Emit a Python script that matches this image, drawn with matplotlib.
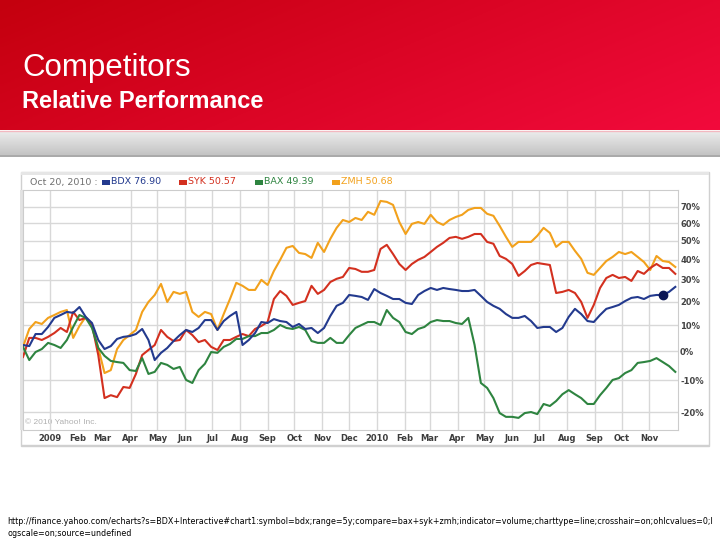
import numpy as np
import pandas as pd
import matplotlib
matplotlib.use('Agg')
import matplotlib.pyplot as plt
from matplotlib.patches import Rectangle
from matplotlib.ticker import FixedLocator, NullLocator, FixedFormatter

# relative performance in %, weekly
dates = pd.date_range('2008-12-02', periods=105, freq='7D')

bdx = [2.4, 2.0, 6.6, 6.6, 9.4, 13.1, 14.3, 15.6, 15.2, 17.7,
       13.5, 11.0, 4.3, 0.9, 2.0, 4.7, 5.5, 5.8, 6.6, 8.6,
       4.3, -3.1, -0.5, 1.3, 3.9, 6.2, 8.2, 7.4, 9.0, 12.2,
       12.2, 8.2, 11.8, 13.9, 15.6, 2.4, 4.3, 7.0, 11.4, 11.0,
       12.6, 11.8, 11.4, 9.4, 10.6, 8.6, 9.0, 7.0, 9.0, 13.9,
       18.2, 19.5, 23.0, 22.6, 22.1, 20.8, 25.7, 23.9, 22.6, 21.2,
       21.2, 19.5, 19.0, 23.0, 24.8, 26.2, 25.3, 26.2, 25.7, 25.3,
       24.8, 24.8, 25.3, 22.6, 19.9, 18.2, 16.9, 14.7, 13.1, 13.1,
       13.9, 11.8, 9.0, 9.4, 9.4, 7.4, 9.0, 13.5, 16.9, 14.7,
       11.8, 11.4, 14.3, 16.9, 17.7, 18.6, 20.3, 21.7, 22.1, 21.2,
       22.6, 23.0, 23.0, 24.4, 26.7]

syk = [-2.0, 5.1, 5.1, 4.3, 5.5, 7.0, 9.0, 7.4, 15.6, 12.2,
       13.1, 10.2, -1.3, -15.7, -14.8, -15.4, -12.2, -12.5, -7.9, -1.3,
       0.55, 2.4, 8.2, 5.5, 3.9, 4.3, 8.2, 6.2, 3.5, 4.3,
       1.7, 0.55, 4.3, 4.3, 5.5, 6.6, 5.8, 8.6, 9.8, 11.4,
       21.2, 24.8, 22.6, 18.6, 19.5, 20.3, 27.2, 23.5, 25.3, 29.0,
       30.5, 31.4, 35.8, 35.3, 33.9, 33.9, 34.8, 45.6, 47.8, 42.9,
       37.8, 34.8, 37.8, 39.9, 41.4, 44.0, 46.7, 48.9, 51.6, 52.2,
       51.1, 52.2, 53.8, 53.8, 49.4, 48.4, 41.9, 40.4, 37.8, 31.9,
       34.3, 37.3, 38.3, 37.8, 37.3, 23.9, 24.4, 25.3, 23.9, 19.9,
       13.1, 18.6, 26.2, 30.9, 32.4, 30.9, 31.4, 29.5, 34.3, 32.9,
       35.8, 37.8, 35.8, 35.8, 32.9]

bax = [1.7, -3.1, -0.2, 0.9, 3.2, 2.4, 1.3, 4.3, 9.4, 14.3,
       13.1, 9.0, 1.3, -1.6, -3.4, -3.8, -4.1, -6.6, -6.9, -2.4,
       -7.9, -7.2, -4.1, -4.8, -6.2, -5.5, -9.9, -10.9, -6.6, -4.4,
       -0.2, -0.5, 1.7, 2.8, 4.7, 4.7, 5.8, 5.8, 7.0, 7.0,
       8.2, 10.2, 9.0, 8.6, 9.4, 8.2, 3.9, 3.2, 3.2, 5.1,
       3.2, 3.2, 6.2, 9.0, 10.2, 11.4, 11.4, 10.2, 16.4, 13.1,
       11.4, 7.4, 6.6, 8.6, 9.4, 11.4, 12.2, 11.8, 11.8, 11.0,
       10.6, 13.1, 2.4, -10.9, -12.5, -15.7, -20.2, -21.3, -21.3, -21.6,
       -20.2, -19.9, -20.5, -17.5, -18.1, -16.6, -14.5, -13.2, -14.5, -15.7,
       -17.5, -17.5, -14.8, -12.5, -9.9, -9.3, -7.6, -6.6, -4.1, -3.8,
       -3.4, -2.4, -3.8, -5.2, -7.2]

zmh = [1.7, 8.6, 11.4, 10.6, 13.1, 14.3, 15.6, 16.4, 5.1, 9.8,
       13.5, 10.2, 1.3, -7.6, -6.6, 0.9, 4.3, 6.2, 8.2, 15.6,
       19.9, 23.0, 28.1, 19.9, 24.4, 23.5, 24.4, 15.6, 13.5, 15.6,
       14.7, 8.2, 14.7, 21.2, 28.6, 27.2, 25.3, 25.3, 30.0, 27.6,
       34.3, 39.9, 46.2, 47.2, 43.5, 42.9, 40.9, 48.9, 44.0, 51.1,
       57.3, 61.9, 60.7, 63.1, 61.9, 66.8, 65.0, 73.6, 73.0, 71.1,
       60.7, 53.8, 59.6, 60.7, 59.6, 65.0, 60.7, 59.0, 61.9, 63.7,
       65.0, 68.0, 69.2, 69.2, 65.6, 64.4, 58.4, 52.2, 46.7, 49.4,
       49.4, 49.4, 52.8, 57.3, 54.4, 46.7, 49.4, 49.4, 44.6, 40.4,
       33.4, 32.4, 35.8, 39.3, 41.4, 44.0, 42.9, 44.0, 41.4, 38.8,
       34.8, 41.9, 39.3, 38.8, 36.3]

names = ['BDX', 'SYK', 'BAX', 'ZMH']
quotes = ['76.90', '50.57', '49.39', '50.68']
colors = ['#233a8e', '#d3301f', '#2e8440', '#f2a11c']
pct_ticks = [-20, -10, 0, 10, 20, 30, 40, 50, 60, 70]
crosshair_idx = 102

url = ('http://finance.yahoo.com/echarts?s=BDX+Interactive#chart1:symbol=bdx;range=5y;'
       'compare=bax+syk+zmh;indicator=volume;charttype=line;crosshair=on;ohlcvalues=0;l')
url2 = 'ogscale=on;source=undefined'

fig = plt.figure(figsize=(7.2, 5.4), dpi=100)

# slide background in pixel coords
bg = fig.add_axes([0, 0, 1, 1])
bg.set_xlim(0, 720)
bg.set_ylim(540, 0)
bg.axis('off')

gx, gy = np.meshgrid(np.linspace(0, 1, 200), np.linspace(0, 1, 60))
t = np.clip(0.7 * gx + 0.3 * gy, 0, 1)[..., None]
c0 = np.array([196, 0, 14]) / 255
c1 = np.array([242, 10, 60]) / 255
bg.imshow(c0 + (c1 - c0) * t, extent=(0, 720, 130, 0), aspect='auto', zorder=0)

gs = np.linspace(0, 1, 30)[:, None, None]
g0 = np.array([236, 236, 236]) / 255
g1 = np.array([196, 196, 196]) / 255
bg.imshow(np.repeat(g0 + (g1 - g0) * gs, 2, axis=1), extent=(0, 720, 155, 131),
          aspect='auto', zorder=0)
bg.plot([0, 720], [130.5, 130.5], color='#f2b8c0', lw=1)
bg.plot([0, 720], [155.5, 155.5], color='#9a9a9a', lw=1.2)

bg.text(22, 76, 'Competitors', color='white', fontsize=22.5,
        family='Liberation Sans', va='baseline')
bg.text(22, 108, 'Relative Performance', color='white', fontsize=17,
        family='Liberation Sans', fontweight='bold', va='baseline')

# chart frame
bg.add_patch(Rectangle((21, 172), 688, 274, facecolor='white', edgecolor='#d0d0d0', lw=1))
bg.add_patch(Rectangle((21, 172), 688, 3, facecolor='#e6e6e6', edgecolor='none'))
bg.add_patch(Rectangle((20, 190), 3, 240, facecolor='#e2e2e2', edgecolor='none'))
bg.plot([22, 708], [444.5, 444.5], color='#d0d0d0', lw=1)

bg.text(30, 182, 'Oct 20, 2010 :', color='#707070', fontsize=6.8, va='center')
for n, q, c, x0 in zip(names, quotes, colors, [102, 179, 255, 332]):
    bg.add_patch(Rectangle((x0, 180), 8, 4.5, facecolor=c, edgecolor='none'))
    bg.text(x0 + 9, 182, f'{n} {q}', color=c, fontsize=6.8, va='center')

bg.text(25, 422, '\u00a9 2010 Yahoo! Inc.', color='#b0b0b0', fontsize=6,
        family='Liberation Sans', va='center', zorder=5)

t1 = bg.text(7, 521, url, fontsize=6, va='center')
t2 = bg.text(7, 533, url2, fontsize=6, va='center')
fig.canvas.draw()
w = t1.get_window_extent().width
t1.set_fontsize(6 * 706 / w)
t2.set_fontsize(6 * 706 / w)

# main chart
ax = fig.add_axes([23 / 720, 1 - 430 / 540, 655 / 720, 240 / 540])
ax.set_facecolor('none')
ax.set_yscale('log')
for vals, c in zip([zmh, syk, bax, bdx], [colors[3], colors[1], colors[2], colors[0]]):
    ax.plot(dates, 1 + np.array(vals) / 100, color=c, lw=1.5, zorder=3)
ax.plot(dates[crosshair_idx], 1 + bdx[crosshair_idx] / 100, 'o', color='#0b1656',
        ms=6, zorder=4)

ax.set_ylim(0.75, 1.807)
ax.set_xlim(pd.Timestamp('2008-12-02'), pd.Timestamp('2010-12-03'))

ax.yaxis.set_major_locator(FixedLocator([1 + p / 100 for p in pct_ticks]))
ax.yaxis.set_major_formatter(FixedFormatter([f'{p}%' for p in pct_ticks]))
ax.yaxis.set_minor_locator(NullLocator())
ax.yaxis.tick_right()
ax.tick_params(axis='y', length=0, pad=1.5, labelsize=6, labelcolor='#444444')
for lab in ax.get_yticklabels():
    lab.set_fontweight('bold')

months = pd.date_range('2009-01-01', '2010-11-01', freq='MS')
ax.xaxis.set_major_locator(FixedLocator([matplotlib.dates.date2num(m) for m in months]))
ax.xaxis.set_major_formatter(FixedFormatter(
    [str(m.year) if m.month == 1 else m.strftime('%b') for m in months]))
ax.xaxis.set_minor_locator(NullLocator())
ax.tick_params(axis='x', length=0, pad=3, labelsize=6, labelcolor='#3c3c3c')
for lab in ax.get_xticklabels():
    lab.set_fontweight('bold')

ax.yaxis.grid(True, color='#d8d8d8', lw=1, zorder=1)
grid_months = [pd.Timestamp('2009-01-01')] + list(pd.date_range('2009-04-01', '2010-11-01', freq='MS'))
for m in grid_months:
    ax.axvline(m, color='#d8d8d8', lw=1, zorder=1)
for s in ax.spines.values():
    s.set_color('#cccccc')

fig.savefig('out.png', dpi=100)
